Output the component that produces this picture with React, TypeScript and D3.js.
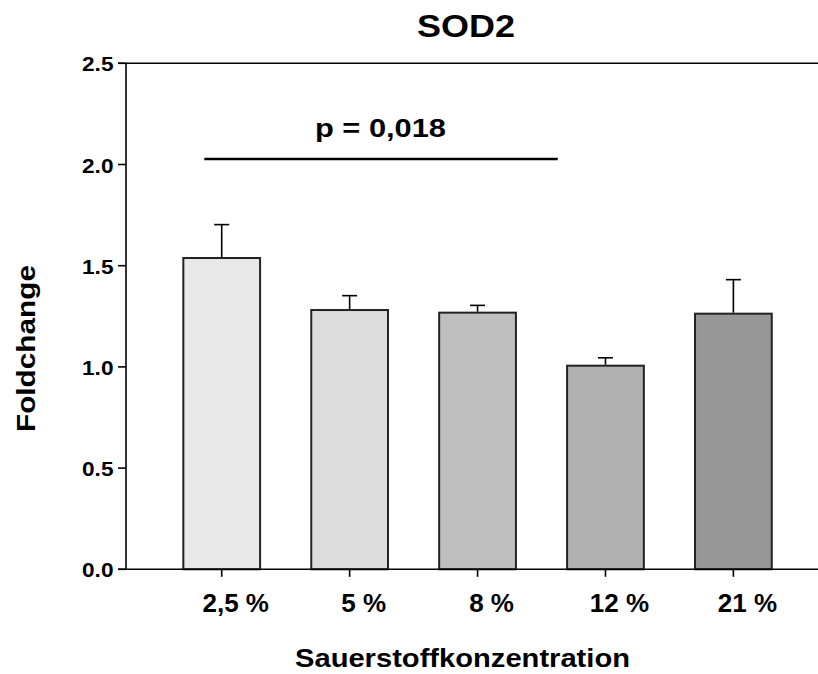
import React from "react";
import * as d3 from "d3";

// Oxygen concentrations tested and SOD2 fold change (mean + SEM)
const categories = ["2,5 %", "5 %", "8 %", "12 %", "21 %"];
const foldchange = [1.538, 1.281, 1.268, 1.006, 1.263];
const sem = [0.165, 0.071, 0.036, 0.039, 0.168];
const barColors = ["#e8e8e8", "#dcdcdc", "#bfbfbf", "#b1b1b1", "#979797"];
const yTicks = [0, 0.5, 1.0, 1.5, 2.0, 2.5];

// Significance bracket: from/to in category-index units, height in fold change
const sigLabel = "p = 0,018";
const sigFrom = -0.136;
const sigTo = 2.627;
const sigLevel = 2.027;

const W = 818;
const H = 674;
const FONT = "'Liberation Sans', Arial, Helvetica, sans-serif";

export default function App() {
  const y = d3.scaleLinear().domain([0, 2.5]).range([569.3, 63.3]);
  const x = d3
    .scaleBand<string>()
    .domain(categories)
    .range([157.75, 797.35])
    .paddingInner(0.4)
    .paddingOuter(0.2);
  const center = (c: string) => (x(c) ?? 0) + x.bandwidth() / 2;
  const idx = d3
    .scaleLinear()
    .domain([0, categories.length - 1])
    .range([center(categories[0]), center(categories[categories.length - 1])]);

  const axisX = 126;
  const capHalf = 7.5;

  return (
    <svg
      width={W}
      height={H}
      viewBox={`0 0 ${W} ${H}`}
      style={{ position: "absolute", left: 0, top: 0, background: "#fff" }}
      fontFamily={FONT}
      fontWeight="bold"
    >
      <rect width={W} height={H} fill="#fff" />

      {/* bars */}
      {categories.map((c, i) => (
        <rect
          key={c}
          x={x(c)}
          y={y(foldchange[i])}
          width={x.bandwidth()}
          height={y(0) - y(foldchange[i])}
          fill={barColors[i]}
          stroke="#222"
          strokeWidth={2}
        />
      ))}

      {/* error bars (upper only) */}
      {categories.map((c, i) => {
        const cx = center(c);
        const top = y(foldchange[i] + sem[i]);
        return (
          <g key={"e" + c} stroke="#000" strokeWidth={1.6}>
            <line x1={cx} x2={cx} y1={y(foldchange[i]) - 1} y2={top} />
            <line x1={cx - capHalf} x2={cx + capHalf} y1={top} y2={top} />
          </g>
        );
      })}

      {/* axes */}
      <g stroke="#000" strokeWidth={1.6} fill="none">
        <line x1={axisX} x2={axisX} y1={y(2.5)} y2={y(0)} />
        <line x1={axisX - 8} x2={W} y1={y(0)} y2={y(0)} />
        <line x1={axisX - 8} x2={W} y1={y(2.5)} y2={y(2.5)} />
        {yTicks.map((t) => (
          <line key={t} x1={axisX - 8} x2={axisX} y1={y(t)} y2={y(t)} />
        ))}
        {categories.map((c) => (
          <line key={c} x1={center(c)} x2={center(c)} y1={y(0)} y2={y(0) + 7.5} />
        ))}
      </g>

      {/* y tick labels */}
      {yTicks.map((t) => (
        <text
          key={t}
          x={113.5}
          y={y(t) + 8}
          textAnchor="end"
          fontSize={20}
          textLength={31.5}
          lengthAdjust="spacingAndGlyphs"
        >
          {t.toFixed(1)}
        </text>
      ))}

      {/* x tick labels, set slightly right of each tick */}
      {categories.map((c) => (
        <text key={c} x={center(c) + 14} y={612} textAnchor="middle" fontSize={26}>
          {c}
        </text>
      ))}

      {/* significance bracket */}
      <line
        x1={idx(sigFrom)}
        x2={idx(sigTo)}
        y1={y(sigLevel)}
        y2={y(sigLevel)}
        stroke="#000"
        strokeWidth={2.6}
      />
      <text
        x={380.5}
        y={137}
        textAnchor="middle"
        fontSize={25}
        textLength={131}
        lengthAdjust="spacingAndGlyphs"
      >
        {sigLabel}
      </text>

      {/* title */}
      <text
        x={466}
        y={37}
        textAnchor="middle"
        fontSize={32}
        textLength={98}
        lengthAdjust="spacingAndGlyphs"
      >
        SOD2
      </text>

      {/* axis titles */}
      <text
        x={462.5}
        y={667}
        textAnchor="middle"
        fontSize={26}
        textLength={335}
        lengthAdjust="spacingAndGlyphs"
      >
        Sauerstoffkonzentration
      </text>
      <text
        transform={`translate(35,348.5) rotate(-90)`}
        textAnchor="middle"
        fontSize={26}
        textLength={167}
        lengthAdjust="spacingAndGlyphs"
      >
        Foldchange
      </text>
    </svg>
  );
}
